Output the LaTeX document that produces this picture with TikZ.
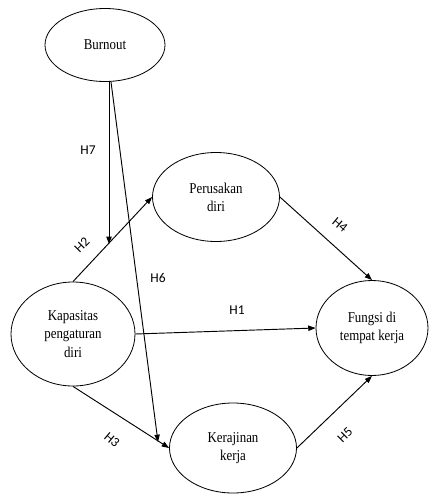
\documentclass[tikz,border=0pt]{standalone}
\usepackage{fontspec}
\setmainfont[FakeStretch=0.86]{Liberation Serif}
\newfontfamily\hlabel{Carlito}
\usetikzlibrary{arrows.meta,shapes.geometric}

\tikzset{
  var/.style={draw, ellipse, line width=0.7pt, inner sep=0pt, align=center,
    font=\fontsize{12.8}{15.5}\selectfont},
  link/.style={-{Triangle[length=2.2mm,width=1.6mm]}, line width=0.8pt},
  hyp/.style={font=\hlabel\fontsize{11.5}{13}\selectfont}
}

\begin{document}
\begin{tikzpicture}[x=0.03cm,y=-0.03cm]
      \useasboundingbox (0,0) rectangle (429,494);
      \node [var,minimum width=3.6cm,minimum height=2.19cm] (burn) at (105,45) {Burnout};
      \node [var,minimum width=3.81cm,minimum height=2.67cm] (rusak) at (216,197) {Perusakan\\diri};
      \node [var,minimum width=3.72cm,minimum height=3.12cm] (kap) at (73,334) {Kapasitas\\pengaturan\\diri};
      \node [var,minimum width=3.36cm,minimum height=2.85cm] (fungsi) at (372,328) {Fungsi di\\tempat kerja};
      \node [var,minimum width=3.81cm,minimum height=2.7cm] (rajin) at (233,448) {Kerajinan\\kerja};
      \coordinate (h7end) at (109,244);
      \coordinate (h6end) at (158,442);
      \draw [link] (kap.north) -- (rusak.west);
      \draw [link] (kap.east) -- (fungsi.west);
      \draw [link] (kap.south) -- (rajin.west);
      \draw [link] (rusak.east) -- (fungsi.north);
      \draw [link] (rajin.east) -- (fungsi.south);
      \draw [link] ([xshift=0.12cm]burn.south) -- (h7end);
      \draw [link] ([xshift=0.18cm]burn.south) -- (h6end);
      \node [hyp] (l1) at (237,310) {H1};
      \node [hyp,rotate=45] (l2) at (82,245) {H2};
      \node [hyp,rotate=-40] (l3) at (112,440) {H3};
      \node [hyp,rotate=-40] (l4) at (340,225) {H4};
      \node [hyp,rotate=45] (l5) at (345,435) {H5};
      \node [hyp] (l6) at (158,278) {H6};
      \node [hyp] (l7) at (88,150) {H7};
      \end{tikzpicture}
\end{document}
